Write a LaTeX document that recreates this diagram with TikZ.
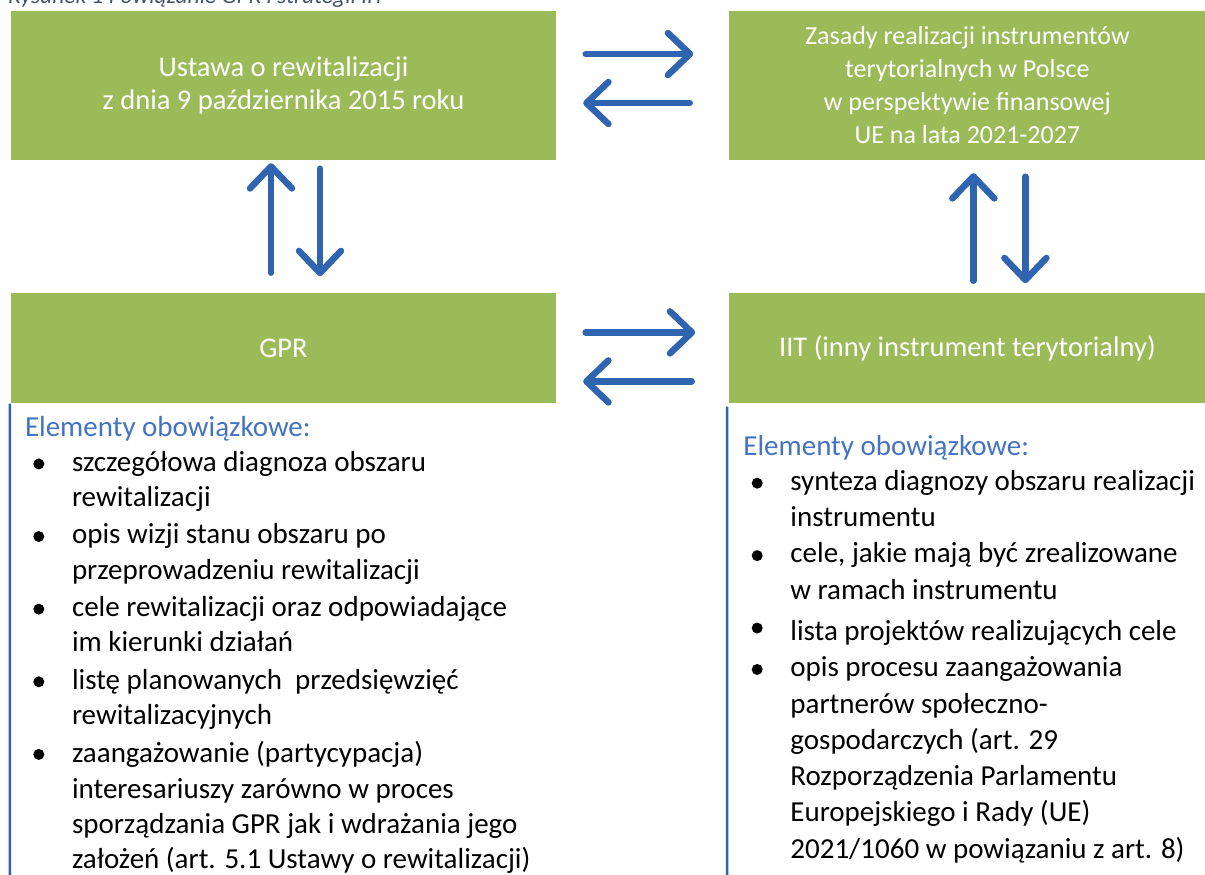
\documentclass[tikz,border=0pt]{standalone}
\usepackage{fontspec}
\setmainfont{Carlito}
\usetikzlibrary{positioning, arrows.meta}
\definecolor{boxgreen}{HTML}{9BBB59}
\definecolor{arrowblue}{HTML}{2F64B0}
\definecolor{headblue}{HTML}{4472C4}
\definecolor{captiongray}{HTML}{44546A}

\begin{document}
\begin{tikzpicture}[x=1pt, y=-1pt,
    box/.style={fill=boxgreen, text=white, align=center, inner sep=0pt},
    flow/.style={draw=arrowblue, line width=6.5pt, line cap=round,
      -{Straight Barb[length=22pt, width=42pt, round]}},
    sideline/.style={draw=arrowblue, line width=2.5pt},
    heading/.style={text=headblue, font=\fontsize{29}{35}\selectfont, inner sep=0pt, anchor=base west},
    entry/.style={font=\fontsize{29}{#1}\selectfont, align=left, inner sep=0pt, anchor=north west,
      execute at begin node=\strut, execute at end node=\strut}]
  \useasboundingbox (0,0) rectangle (1205,875);

  % caption (cut off at the top)
  \node[anchor=base west, inner sep=0pt, text=captiongray,
    font=\fontsize{23.5}{28}\selectfont\itshape] (caption) at (8,4)
    {Rysunek 1 Powiązanie GPR i strategii IIT};

  % boxes
  \node[box, minimum width=545pt, minimum height=149pt, font=\fontsize{28.5}{33}\selectfont]
    (ustawa) at (283.5,85.5) {Ustawa o rewitalizacji\\z dnia 9 października 2015 roku};
  \node[box, minimum width=476pt, minimum height=149pt, font=\fontsize{26}{33}\selectfont,
    right=173pt of ustawa] (zasady)
    {Zasady realizacji instrumentów\\terytorialnych w Polsce\\w perspektywie finansowej\\UE na lata 2021-2027};
  \node[box, minimum width=545pt, minimum height=110pt, font=\fontsize{28.5}{33}\selectfont,
    below=133pt of ustawa] (gpr) {GPR};
  \node[box, minimum width=476pt, minimum height=110pt, font=\fontsize{28.5}{33}\selectfont,
    right=173pt of gpr] (iit) {IIT (inny instrument terytorialny)};

  % arrows between the boxes
  \draw[flow] ([shift={(29.5,-31.5)}]ustawa.east) -- ([shift={(-36,-31.5)}]zasady.west);
  \draw[flow] ([shift={(-39.5,17.5)}]zasady.west) -- ([shift={(27,17.5)}]ustawa.east);
  \draw[flow] ([shift={(29.5,-16)}]gpr.east) -- ([shift={(-34,-16)}]iit.west);
  \draw[flow] ([shift={(-37.5,33)}]iit.west) -- ([shift={(27,33)}]gpr.east);
  \draw[flow] ([shift={(-12.5,-20.5)}]gpr.north) -- ([shift={(-12.5,3)}]ustawa.south);
  \draw[flow] ([shift={(36.5,8.5)}]ustawa.south) -- ([shift={(36.5,-17)}]gpr.north);
  \draw[flow] ([shift={(6,-12.5)}]iit.north) -- ([shift={(6,13)}]zasady.south);
  \draw[flow] ([shift={(58,16.5)}]zasady.south) -- ([shift={(58,-10)}]iit.north);

  % side lines of the lists
  \coordinate (lend) at (10,875);
  \coordinate (rend) at (727,875);
  \draw[sideline] ([xshift=-1pt]gpr.south west) -- (lend);
  \draw[sideline] ([shift={(-2,3)}]iit.south west) -- (rend);

  % left list
  \node[heading] (lhead) at ([shift={(14,33)}]gpr.south west) {Elementy obowiązkowe:};
  \node[entry=35.3] (l1) at ([shift={(47,14.3)}]lhead.base west)
    {szczegółowa diagnoza obszaru\\rewitalizacji};
  \node[entry=35.3, below=6.2pt of l1.south west, anchor=north west] (l2)
    {opis wizji stanu obszaru po\\przeprowadzeniu rewitalizacji};
  \node[entry=35.3, below=6.2pt of l2.south west, anchor=north west] (l3)
    {cele rewitalizacji oraz odpowiadające\\im kierunki działań};
  \node[entry=35.3, below=6.2pt of l3.south west, anchor=north west] (l4)
    {listę planowanych\ \ przedsięwzięć\\rewitalizacyjnych};
  \node[entry=35.3, below=6.2pt of l4.south west, anchor=north west] (l5)
    {zaangażowanie (partycypacja)\\interesariuszy zarówno w proces\\sporządzania GPR jak i wdrażania jego\\założeń (art. 5.1 Ustawy o rewitalizacji)};

  % right list
  \node[heading] (rhead) at ([shift={(14,52)}]iit.south west) {Elementy obowiązkowe:};
  \node[entry=36.3] (r1) at ([shift={(47,14.6)}]rhead.base west)
    {synteza diagnozy obszaru realizacji\\instrumentu};
  \node[entry=36.3, below=4.7pt of r1.south west, anchor=north west] (r2)
    {cele, jakie mają być zrealizowane\\w ramach instrumentu};
  \node[entry=36.3, below=4.7pt of r2.south west, anchor=north west] (r3)
    {lista projektów realizujących cele};
  \node[entry=36.3, below=4.7pt of r3.south west, anchor=north west] (r4)
    {opis procesu zaangażowania\\partnerów społeczno-\\gospodarczych (art. 29\\Rozporządzenia Parlamentu\\Europejskiego i Rady (UE)\\2021/1060 w powiązaniu z art. 8)};

  % bullets
  \foreach \n in {l1,l2,l3,l4,l5,r1,r2,r3,r4}
    \fill ([shift={(-33,13)}]\n.north west) circle (5.5);
\end{tikzpicture}
\end{document}
